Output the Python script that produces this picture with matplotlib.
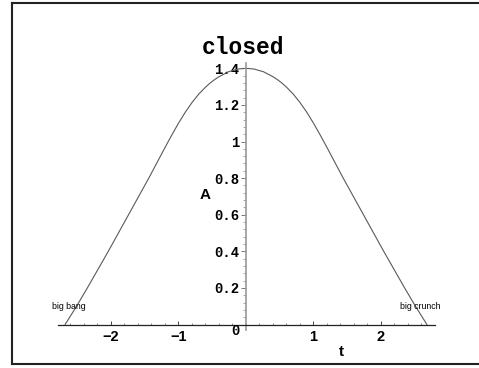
import matplotlib
matplotlib.use("Agg")
import matplotlib.pyplot as plt
import numpy as np
from matplotlib.lines import Line2D

# curve (t, A), big bang -> big crunch
t_vals = [-2.68, -2.51, -2.35, -2.04, -1.74, -1.44, -1.20, -1.10, -1.00, -0.90,
          -0.80, -0.70, -0.60, -0.53, -0.47, -0.40, -0.26, -0.12, 0.0,
          0.12, 0.26, 0.40, 0.47, 0.53, 0.60, 0.70, 0.80, 0.90, 1.00,
          1.10, 1.20, 1.44, 1.74, 2.04, 2.35, 2.51, 2.68]
A_vals = [0.0, 0.10, 0.20, 0.40, 0.60, 0.80, 0.967, 1.035, 1.10, 1.16,
          1.213, 1.259, 1.297, 1.32, 1.337, 1.354, 1.381, 1.396, 1.40,
          1.396, 1.381, 1.354, 1.337, 1.32, 1.297, 1.259, 1.213, 1.16, 1.10,
          1.035, 0.967, 0.80, 0.60, 0.40, 0.20, 0.10, 0.0]

xticks = [-2, -1, 1, 2]
xticklabels = ["\u22122", "\u22121", "1", "2"]
yticks = [0.2, 0.4, 0.6, 0.8, 1.0, 1.2, 1.4]
yticklabels = ["0.2", "0.4", "0.6", "0.8", "1", "1.2", "1.4"]

mono = "Liberation Mono"
sans = "Liberation Sans"

fig = plt.figure(figsize=(4.79, 3.68), dpi=100)
ax = fig.add_axes([0, 0, 1, 1])
ax.patch.set_alpha(0)

ax.plot(t_vals, A_vals, color="#5a5a5a", lw=0.8, solid_joinstyle="round")

# pixel mapping: x = 246 + 67.5 t, y = 324.5 - 183 A
ax.set_xlim(-246 / 67.5, (479 - 246) / 67.5)
ax.set_ylim((324.5 - 368) / 183, 324.5 / 183)

for s in ["top", "right"]:
    ax.spines[s].set_visible(False)
ax.spines["bottom"].set_position(("data", 0))
ax.spines["left"].set_position(("data", 0))
ax.spines["bottom"].set_bounds(-2.785, 2.8)
ax.spines["left"].set_bounds(-0.03, 1.43)
ax.spines["bottom"].set_color("#222222")
ax.spines["left"].set_color("#999999")
ax.spines["bottom"].set_linewidth(0.9)
ax.spines["left"].set_linewidth(1.2)

ax.set_xticks(xticks)
ax.set_xticklabels(xticklabels, fontfamily=sans, fontweight="bold", fontsize=10.5)
ax.set_xticks(np.round(np.arange(-2.6, 2.61, 0.2), 2), minor=True)
ax.set_yticks(yticks)
ax.set_yticklabels(yticklabels, fontfamily=mono, fontweight="bold", fontsize=10)
ax.set_yticks(np.round(np.arange(0.04, 1.43, 0.04), 2), minor=True)

ax.tick_params(axis="x", which="major", direction="in", length=3, width=0.7,
               color="#444444", pad=4)
ax.tick_params(axis="x", which="minor", direction="in", length=1.8, width=0.6,
               color="#777777")
ax.tick_params(axis="y", which="major", direction="out", length=3.5, width=0.7,
               color="#777777", pad=1.5)
ax.tick_params(axis="y", which="minor", direction="out", length=2, width=0.6,
               color="#999999")

ax.text(-0.04, 1.511, "closed", fontfamily=mono, fontweight="bold",
        fontsize=16.5, ha="center", va="center")
ax.text(-0.607, 0.708, "A", fontfamily=sans, fontweight="bold",
        fontsize=11, ha="center", va="center")
ax.text(1.407, -0.150, "t", fontfamily=sans, fontweight="bold",
        fontsize=11, ha="center", va="center")
ax.text(-0.163, -0.036, "0", fontfamily=mono, fontweight="bold",
        fontsize=10, ha="center", va="center")
ax.text(-2.874, 0.097, "big bang", fontfamily=sans, fontsize=6.3,
        ha="left", va="center")
ax.text(2.281, 0.097, "big crunch", fontfamily=sans, fontsize=6.3,
        ha="left", va="center")

# frame lines of the screenshot
W, H = 479.0, 368.0
fig.add_artist(Line2D([11.5 / W, 11.5 / W], [1 - 2.5 / H, 1 - 364 / H],
                      transform=fig.transFigure, color="#222222", lw=1.5))
fig.add_artist(Line2D([11.5 / W, 1], [1 - 2.5 / H, 1 - 2.5 / H],
                      transform=fig.transFigure, color="#222222", lw=1.5))
fig.add_artist(Line2D([11.5 / W, 1], [1 - 364 / H, 1 - 364 / H],
                      transform=fig.transFigure, color="#222222", lw=1.5))

fig.savefig("out.png", dpi=100)
